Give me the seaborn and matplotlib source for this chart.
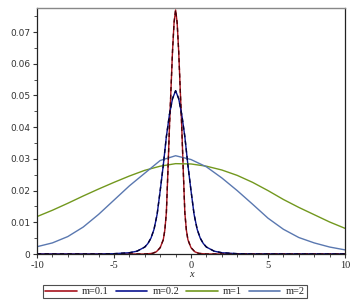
import numpy as np
import pandas as pd
import matplotlib
matplotlib.use("Agg")
import matplotlib.pyplot as plt
import seaborn as sns
from matplotlib.ticker import MultipleLocator

# ---- data ----
labels = ["m=0.1", "m=0.2", "m=1", "m=2"]
colors = ["#A8141E", "#0A1490", "#72981E", "#5A78B0"]

red_x = [-10, -3, -2.5, -2.25, -2.0, -1.8, -1.7, -1.6, -1.5, -1.4, -1.3, -1.2, -1.1, -1.0,
         -0.9, -0.8, -0.7, -0.6, -0.5, -0.4, -0.3, -0.2, 0.0, 0.25, 0.5, 1.0, 10]
red_y = [0, 0, 0.0002, 0.0007, 0.002, 0.0045, 0.0075, 0.013, 0.026, 0.040, 0.052, 0.064, 0.073, 0.077,
         0.073, 0.064, 0.052, 0.040, 0.026, 0.013, 0.0075, 0.0045, 0.002, 0.0007, 0.0002, 0, 0]

blue_x = [-10, -6, -5, -4, -3.5, -3.0, -2.8, -2.6, -2.4, -2.2, -2.0, -1.8, -1.6, -1.4, -1.2, -1.0,
          -0.8, -0.6, -0.4, -0.2, 0.0, 0.2, 0.4, 0.6, 0.8, 1.0, 1.5, 2.0, 3.0, 4.0, 10]
blue_y = [0, 0, 0.0001, 0.0004, 0.0009, 0.0022, 0.0033, 0.005, 0.0078, 0.0125, 0.020, 0.028, 0.037,
          0.044, 0.049, 0.0515, 0.049, 0.044, 0.037, 0.028, 0.020, 0.0125, 0.0078, 0.005, 0.0033,
          0.0022, 0.0009, 0.0004, 0.0001, 0, 0]

int_x = [-10, -9, -8, -7, -6, -5, -4, -3, -2, -1, 0, 1, 2, 3, 4, 5, 6, 7, 8, 9, 10]
green_y = [0.0118, 0.0138, 0.0160, 0.0183, 0.0205, 0.0226, 0.0246, 0.0264, 0.0277, 0.0285, 0.0284,
           0.0277, 0.0265, 0.0248, 0.0226, 0.0200, 0.0172, 0.0147, 0.0124, 0.0101, 0.0081]
lblue_y = [0.0023, 0.0035, 0.0055, 0.0085, 0.0125, 0.0170, 0.0215, 0.0255, 0.0295, 0.0310, 0.0298,
           0.0275, 0.0240, 0.0200, 0.0157, 0.0113, 0.0078, 0.0052, 0.0035, 0.0022, 0.0013]

xticks = [-10, -5, 0, 5, 10]
yticks = [0, 0.01, 0.02, 0.03, 0.04, 0.05, 0.06, 0.07]
ytick_labels = ["0", "0.01", "0.02", "0.03", "0.04", "0.05", "0.06", "0.07"]

df = pd.concat([
    pd.DataFrame({"x": red_x, "y": red_y, "m": labels[0]}),
    pd.DataFrame({"x": blue_x, "y": blue_y, "m": labels[1]}),
    pd.DataFrame({"x": int_x, "y": green_y, "m": labels[2]}),
    pd.DataFrame({"x": int_x, "y": lblue_y, "m": labels[3]}),
], ignore_index=True)

sns.set_style("white")
plt.rcParams["axes.unicode_minus"] = False

fig = plt.figure(figsize=(3.63, 3.07), dpi=100)
ax = fig.add_axes([37 / 363, 1 - 254 / 307, (345 - 37) / 363, (254 - 8) / 307])

sns.lineplot(data=df, x="x", y="y", hue="m", hue_order=labels,
             palette=dict(zip(labels, colors)), estimator=None, sort=True,
             linewidth=1.0, ax=ax)

# dark dashed overlays on the two narrow curves
sns.lineplot(x=red_x, y=red_y, color="#4A0008", linestyle=(0, (3, 2.5)), linewidth=1.0,
             estimator=None, sort=True, ax=ax, legend=False)
sns.lineplot(x=blue_x, y=blue_y, color="#00003A", linestyle=(0, (3, 2.5)), linewidth=1.0,
             estimator=None, sort=True, ax=ax, legend=False)

ax.set_xlim(-10, 10)
ax.set_ylim(0, 0.0776)
ax.set_xticks(xticks)
ax.set_xticklabels([str(t) for t in xticks], fontfamily="Liberation Serif", fontsize=7.5)
ax.xaxis.set_minor_locator(MultipleLocator(1))
ax.set_yticks(yticks)
ax.set_yticklabels(ytick_labels, fontfamily="DejaVu Sans", fontsize=6.5, color="#333333")
ax.yaxis.set_minor_locator(MultipleLocator(0.005))
ax.tick_params(axis="both", which="major", direction="out", length=3, width=0.8,
               color="#333333", pad=2, bottom=True, left=True)
ax.tick_params(axis="both", which="minor", direction="out", length=2, width=0.6,
               color="#333333", bottom=True, left=True)
ax.set_xlabel("x", fontfamily="Liberation Serif", fontstyle="italic", fontsize=7.5, labelpad=0)
ax.set_ylabel("")

for side in ["left", "right", "bottom"]:
    ax.spines[side].set_color("#222222")
    ax.spines[side].set_linewidth(0.9)
ax.spines["top"].set_color("#888888")
ax.spines["top"].set_linewidth(1.0)

ax.get_legend().remove()
handles = [plt.Line2D([], [], color=c, linewidth=1.2) for c in colors]
leg = fig.legend(handles, labels, loc="center", bbox_to_anchor=(175 / 363, 1 - 291.5 / 307),
                 ncol=4, frameon=True, fancybox=False,
                 prop={"family": "Liberation Serif", "size": 7.5},
                 handlelength=3.0, handletextpad=0.5, columnspacing=0.7,
                 borderpad=0.2, borderaxespad=0)
leg.get_frame().set_edgecolor("#222222")
leg.get_frame().set_linewidth(0.8)

fig.savefig("out.png", dpi=100)
